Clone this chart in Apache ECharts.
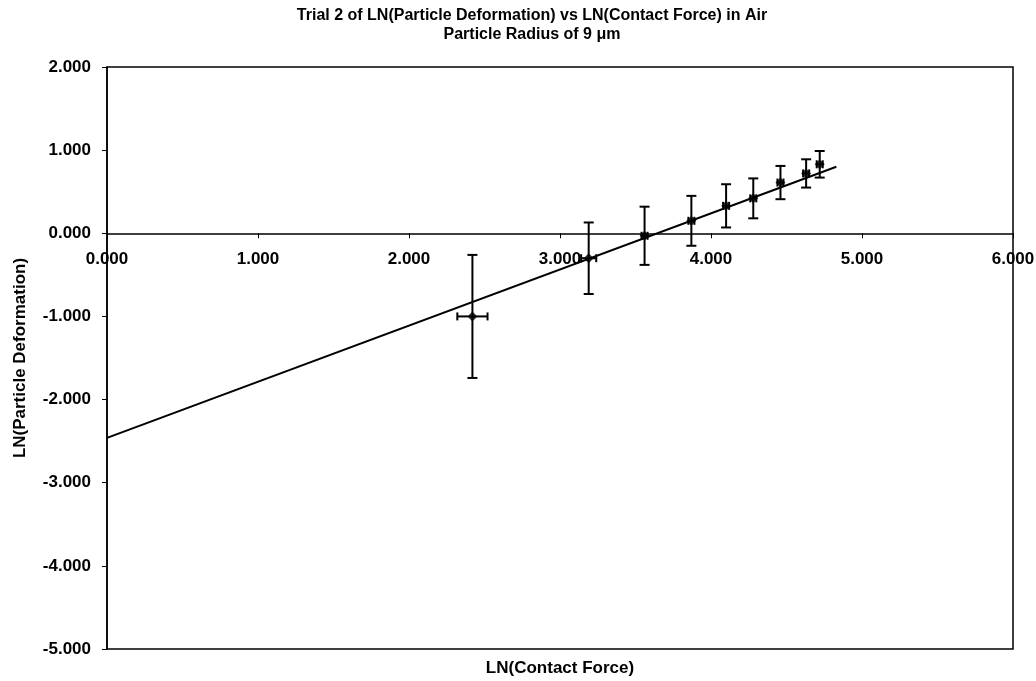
<!DOCTYPE html>
<html><head><meta charset="utf-8">
<script src="https://cdn.jsdelivr.net/npm/echarts@6/dist/echarts.min.js"></script>
<style>html,body{margin:0;padding:0;background:#fff}#c{width:1036px;height:681px}</style>
</head><body><div id="c"></div>
<script>
const titleText = "Trial 2 of LN(Particle Deformation) vs LN(Contact Force) in Air";
const subtitleText = "Particle Radius of 9 μm";
const xName = "LN(Contact Force)";
const yName = "LN(Particle Deformation)";
const lnForce = [2.42, 3.19, 3.56, 3.87, 4.10, 4.28, 4.46, 4.63, 4.72];
const lnDeform = [-1.00, -0.30, -0.03, 0.15, 0.33, 0.42, 0.61, 0.72, 0.83];
const yErr = [0.74, 0.43, 0.35, 0.30, 0.26, 0.24, 0.20, 0.17, 0.16];
const xErr = [0.10, 0.05, 0.02, 0.02, 0.02, 0.02, 0.02, 0.02, 0.02];
const trendX = [0, 4.83];
const trendY = [-2.46, 0.80];
const xMin = 0, xMax = 6, xStep = 1;
const yMin = -5, yMax = 2, yStep = 1;

const font = "'Liberation Sans', Arial, sans-serif";
const W = 1036, H = 681;
const gridL = 107, gridR = 23, gridT = 67, gridB = 32;
const plotH = H - gridT - gridB;
// move the labelled x axis up so it crosses the y axis at zero
const zeroOffset = -plotH * (0 - yMin) / (yMax - yMin);

const chart = echarts.init(document.getElementById('c'));
const errData = lnForce.map((x, i) => [x, lnDeform[i], yErr[i], xErr[i]]);
chart.setOption({
  animation: false,
  title: {
    text: titleText + "\n" + subtitleText,
    left: 527, top: 1, textAlign: 'center',
    textStyle: { fontFamily: font, fontSize: 16, fontWeight: 'bold', color: '#000', lineHeight: 19 }
  },
  grid: { left: gridL, right: gridR, top: gridT, bottom: gridB, containLabel: false, outerBoundsMode: 'none',
    show: true, borderColor: '#000', borderWidth: 1.5, backgroundColor: '#fff' },
  xAxis: [{
    type: 'value', min: xMin, max: xMax, interval: xStep, position: 'bottom', offset: zeroOffset,
    axisLine: { onZero: false, lineStyle: { color: '#000', width: 1.5 } },
    axisTick: { show: true, length: 5, inside: false, lineStyle: { color: '#000' } },
    axisLabel: { fontFamily: font, fontSize: 17, fontWeight: 'bold', color: '#000', margin: 18,
      formatter: v => v.toFixed(3) },
    splitLine: { show: false }
  }, {
    type: 'value', min: xMin, max: xMax, position: 'bottom', offset: 0,
    name: xName, nameLocation: 'middle', nameGap: 11,
    nameTextStyle: { fontFamily: font, fontSize: 17, fontWeight: 'bold', color: '#000' },
    axisLine: { show: false, onZero: false }, axisTick: { show: false }, axisLabel: { show: false },
    splitLine: { show: false }
  }],
  yAxis: {
    type: 'value', min: yMin, max: yMax, interval: yStep,
    name: yName, nameLocation: 'middle', nameGap: 78, nameRotate: 90,
    nameTextStyle: { fontFamily: font, fontSize: 17, fontWeight: 'bold', color: '#000' },
    axisLine: { show: true, onZero: false, lineStyle: { color: '#000', width: 1.5 } },
    axisTick: { show: true, length: 5, lineStyle: { color: '#000' } },
    axisLabel: { fontFamily: font, fontSize: 17, fontWeight: 'bold', color: '#000', margin: 16,
      formatter: v => v.toFixed(3) },
    splitLine: { show: false }
  },
  series: [
    {
      type: 'line', data: trendX.map((x, i) => [x, trendY[i]]),
      symbol: 'none', lineStyle: { color: '#000', width: 2 }, z: 2
    },
    {
      type: 'custom', z: 3,
      data: errData,
      renderItem: (params, api) => {
        const x = api.value(0), y = api.value(1), ey = api.value(2), ex = api.value(3);
        const top = api.coord([x, y + ey]);
        const bot = api.coord([x, y - ey]);
        const lft = api.coord([x - ex, y]);
        const rgt = api.coord([x + ex, y]);
        const cap = 5;
        const st = { stroke: '#000', lineWidth: 2 };
        const children = [
          { type: 'line', shape: { x1: top[0], y1: top[1], x2: bot[0], y2: bot[1] }, style: st },
          { type: 'line', shape: { x1: top[0] - cap, y1: top[1], x2: top[0] + cap, y2: top[1] }, style: st },
          { type: 'line', shape: { x1: bot[0] - cap, y1: bot[1], x2: bot[0] + cap, y2: bot[1] }, style: st },
          { type: 'line', shape: { x1: lft[0], y1: lft[1], x2: rgt[0], y2: rgt[1] }, style: st },
          { type: 'line', shape: { x1: lft[0], y1: lft[1] - 4, x2: lft[0], y2: lft[1] + 4 }, style: st },
          { type: 'line', shape: { x1: rgt[0], y1: rgt[1] - 4, x2: rgt[0], y2: rgt[1] + 4 }, style: st }
        ];
        return { type: 'group', children };
      }
    },
    {
      type: 'scatter', z: 4,
      data: lnForce.map((x, i) => [x, lnDeform[i]]),
      symbol: 'diamond', symbolSize: 10,
      itemStyle: { color: '#000' }
    }
  ]
});
</script></body></html>
